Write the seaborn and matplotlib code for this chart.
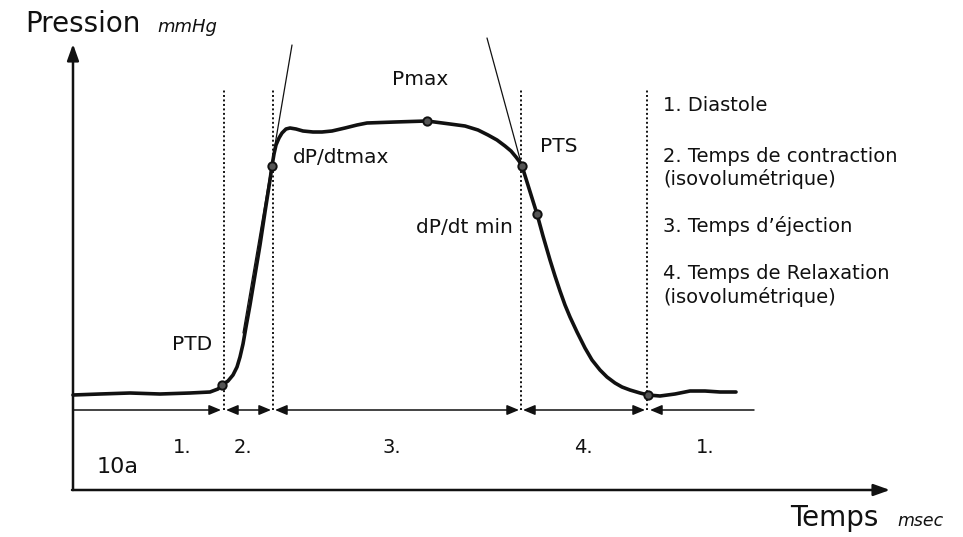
import numpy as np
import matplotlib
matplotlib.use("Agg")
import matplotlib.pyplot as plt
import seaborn as sns

# pressure trace (time in arbitrary msec units, pressure in arbitrary mmHg units)
time_ms = [73, 100, 130, 160, 190, 210, 218, 222, 228, 233, 237, 240, 243, 246, 250,
           255, 260, 265, 270, 272, 274, 276, 279, 282, 286, 290, 296, 303, 313, 322,
           332, 345, 357, 367, 395, 427, 450, 465, 478, 488, 497, 505, 511, 516, 519,
           522, 527, 532, 537, 543, 550, 555, 560, 565, 570, 577, 585, 592, 600, 607,
           615, 622, 630, 640, 648, 660, 675, 690, 705, 720, 736]
pressure = [142, 143, 144, 143, 144, 145, 148, 152, 156, 162, 170, 180, 193, 210, 232,
            262, 292, 325, 357, 371, 383, 392, 399, 404, 408, 409, 408, 406, 405, 405,
            406, 409, 412, 414, 415, 416, 413, 411, 407, 402, 397, 391, 386, 380, 376,
            371, 355, 339, 323, 301, 277, 261, 246, 232, 220, 205, 189, 177, 167, 160,
            154, 150, 147, 144, 142, 141, 143, 146, 146, 145, 145]

# marked points: PTD, dP/dtmax, Pmax, PTS, dP/dt min, end of relaxation
mark_t = [222, 272, 427, 522, 537, 648]
mark_p = [152, 371, 416, 371, 323, 142]

# tangents at dP/dtmax and PTS
tangent_up_t = [243, 292]
tangent_up_p = [204, 492]
tangent_down_t = [487, 523]
tangent_down_p = [499, 367]

# phase boundaries (dotted lines) and phase labels
boundaries = [224, 273, 521, 647]
phase_labels = ["1.", "2.", "3.", "4.", "1."]
phase_label_t = [182, 243, 392, 583, 705]

legend_lines = ["1. Diastole", "2. Temps de contraction", "(isovolumétrique)",
                "3. Temps d\u2019éjection", "4. Temps de Relaxation", "(isovolumétrique)"]
legend_base = [426, 375, 352, 305, 258, 234]

sns.set_style("white")
plt.rcParams["font.family"] = ["DejaVu Sans"]

ink = "#111111"
fig = plt.figure(figsize=(9.63, 5.37), dpi=100)
ax = fig.add_axes([0, 0, 1, 1])
ax.set_xlim(0, 963)
ax.set_ylim(0, 537)
ax.axis("off")

# axes with arrow heads
ax.annotate("", xy=(73, 493), xytext=(73, 47),
            arrowprops=dict(arrowstyle="-|>,head_length=0.7,head_width=0.25", color=ink,
                            lw=1.8, shrinkA=0, shrinkB=0, mutation_scale=14))
ax.annotate("", xy=(890, 47), xytext=(72, 47),
            arrowprops=dict(arrowstyle="-|>,head_length=0.7,head_width=0.25", color=ink,
                            lw=1.8, shrinkA=0, shrinkB=0, mutation_scale=14))

# dotted phase boundaries
ax.vlines(boundaries, 127, 447, colors=ink, linestyles=(0, (1, 1.3)), lw=1.4)

# phase duration arrows
arr = dict(color=ink, lw=1.1, shrinkA=0, shrinkB=0, mutation_scale=12)
y_arr = 127
edges = [73] + boundaries + [754]
ax.annotate("", xy=(edges[1] - 3, y_arr), xytext=(edges[0], y_arr),
            arrowprops=dict(arrowstyle="-|>,head_length=0.6,head_width=0.25", **arr))
for a, b in zip(edges[1:-2], edges[2:-1]):
    ax.annotate("", xy=(b - 2, y_arr), xytext=(a + 2, y_arr),
                arrowprops=dict(arrowstyle="<|-|>,head_length=0.6,head_width=0.25", **arr))
ax.annotate("", xy=(edges[-1], y_arr), xytext=(edges[-2] + 3, y_arr),
            arrowprops=dict(arrowstyle="<|-,head_length=0.6,head_width=0.25", **arr))

# tangents
ax.plot(tangent_up_t, tangent_up_p, color=ink, lw=0.9)
ax.plot(tangent_down_t, tangent_down_p, color=ink, lw=0.9)

# pressure curve
sns.lineplot(x=time_ms, y=pressure, ax=ax, color=ink, lw=2.6, sort=False,
             estimator=None, solid_joinstyle="round", solid_capstyle="round")
ax.plot(mark_t, mark_p, "o", ms=6, mfc="#555555", mec=ink, mew=1.4)

# labels
lab = 14.5
ax.text(25, 505, "Pression", fontsize=20, color=ink)
ax.text(157, 505, "mmHg", fontsize=13, style="italic", color=ink)
ax.text(790, 11, "Temps", fontsize=20, color=ink)
ax.text(897, 11, "msec", fontsize=12.5, style="italic", color=ink)
ax.text(172, 187, "PTD", fontsize=lab, color=ink)
ax.text(293, 374, "dP/dtmax", fontsize=lab, color=ink)
ax.text(392, 452, "Pmax", fontsize=lab, color=ink)
ax.text(540, 385, "PTS", fontsize=lab, color=ink)
ax.text(513, 304, "dP/dt min", fontsize=lab, color=ink, ha="right")
ax.text(97, 64, "10a", fontsize=16, color=ink)

for t, s in zip(phase_label_t, phase_labels):
    ax.text(t, 84, s, fontsize=14, color=ink, ha="center")

for s, yb in zip(legend_lines, legend_base):
    ax.text(663, yb, s, fontsize=14, color=ink)

fig.savefig("out.png", dpi=100)
